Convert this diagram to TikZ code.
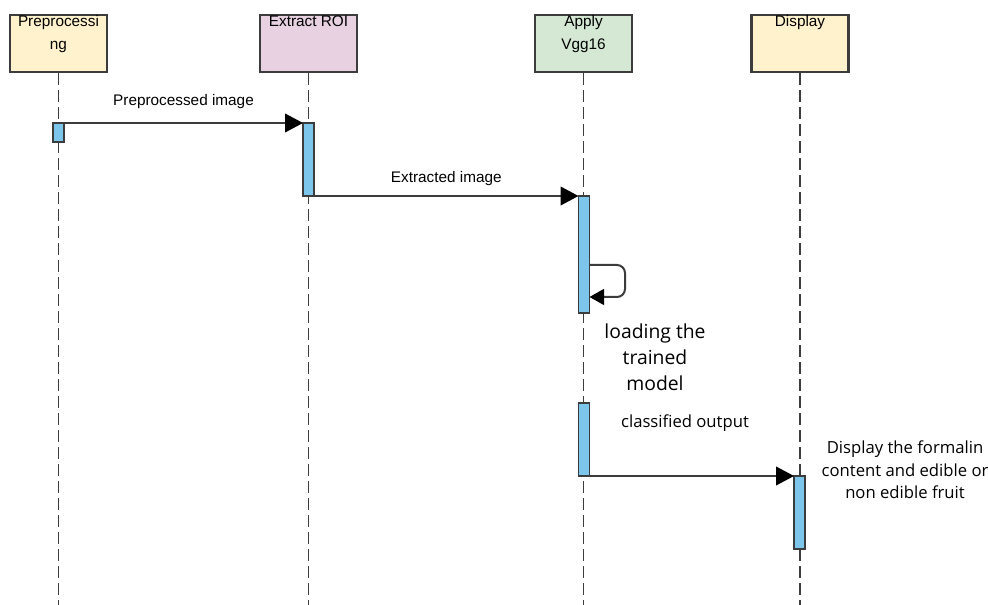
\documentclass[tikz,border=0pt]{standalone}
\usepackage{fontspec}
\setmainfont{Liberation Sans}
\newfontfamily\notefont{Open Sans}
\usetikzlibrary{arrows.meta,positioning}

\definecolor{headyellow}{HTML}{FFF2CC}
\definecolor{headpink}{HTML}{E8D2E2}
\definecolor{headgreen}{HTML}{D5E8D4}
\definecolor{actblue}{HTML}{7CC6EC}
\definecolor{linegray}{HTML}{3C3C3C}

\begin{document}
\begin{tikzpicture}[x=0.75pt, y=-0.75pt,
    head/.style={draw=linegray, line width=1.6pt, minimum width=72.75pt, minimum height=42.75pt, inner sep=0pt},
    headtext/.style={anchor=north, align=center, font=\fontsize{11.5}{17}\selectfont, inner sep=1pt},
    lifeline/.style={draw=linegray, line width=1.3pt, dash pattern=on 9pt off 3.75pt},
    act/.style={draw=linegray, fill=actblue, line width=1.2pt, minimum width=8.25pt, inner sep=0pt, outer sep=0pt, anchor=north},
    msg/.style={draw=linegray, line width=1.5pt, -{Triangle[length=13.5pt, width=14pt, color=black]}},
    msgtext/.style={font=\fontsize{11.5}{14}\selectfont, inner sep=0pt},
    note/.style={align=center, font=\notefont\fontsize{12.5}{17}\selectfont, inner sep=0pt}]
    \useasboundingbox (0,0) rectangle (988,605);

    % Define nodes for the diagram
    \node[head, fill=headyellow] (hP) at (58.5,43.5) {};
    \node[head, fill=headpink] (hE) at (308.5,43.5) {};
    \node[head, fill=headgreen] (hV) at (583.5,43.5) {};
    \node[head, fill=headyellow] (hD) at (800,43.5) {};

    \node[headtext] at (hP.north) {Preprocessi\\ng};
    \node[headtext] at (hE.north) {Extract ROI};
    \node[headtext] at (hV.north) {Apply\\Vgg16};
    \node[headtext] at (hD.north) {Display};

    \coordinate (eP) at (58.5,605);
    \coordinate (eE) at (308.5,605);
    \coordinate (eV) at (583.5,605);
    \coordinate (eD) at (800,605);

    \draw[lifeline] (hP) -- (eP);
    \draw[lifeline] (hE) -- (eE);
    \draw[lifeline] (hV) -- (eV);
    \draw[lifeline] (hD) -- (eD);

    % activation bars
    \node[act, minimum height=14.25pt] (aP) at (58.5,123) {};
    \node[act, minimum height=54.75pt] (aE) at (308.5,123) {};
    \node[act, minimum height=87.75pt] (aV) at (584,196) {};
    \node[act, minimum height=54.75pt] (aW) at (584,403) {};
    \node[act, minimum height=54.75pt] (aD) at (799.5,476) {};

    % Draw the connections
    \draw[msg] (aP.north east) -- node[msgtext, above=10pt] {Preprocessed image} (aE.north west);
    \draw[msg] (aE.south east) -- node[msgtext, above=7pt] {Extracted image} (aV.north west);
    \draw[msg] (aW.south east) -- (aD.north west);

    % self call
    \draw[msg, rounded corners=6pt, -{Triangle[length=11pt, width=12pt, color=black]}]
        (aV.east |- 0,265) -| (625,281) |- (aV.east |- 0,297);

    % Notes
    \node[note, font=\notefont\fontsize{14.5}{19.5}\selectfont] (load) at (655,357) {loading the\\trained\\model};
    \node[note] (cls) at (685,423) {classified output};
    \node[note] (disp) at (905,470) {Display the formalin\\content and edible or\\non edible fruit};
\end{tikzpicture}
\end{document}
